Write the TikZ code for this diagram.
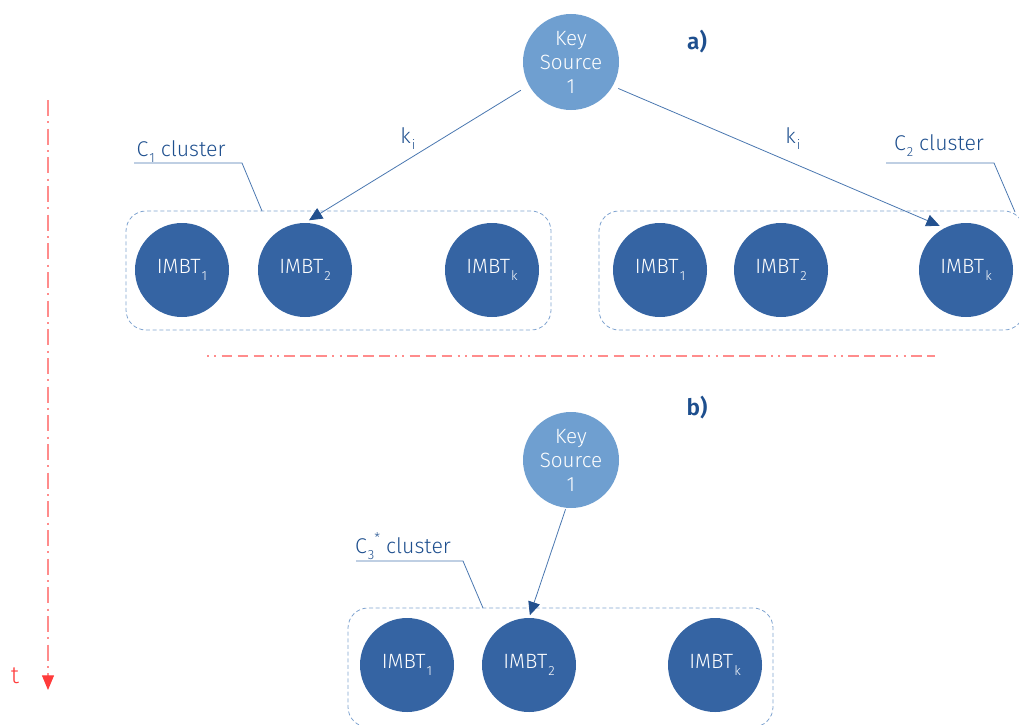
\documentclass[tikz,border=0pt]{standalone}
\usepackage{fontspec}
\setmainfont{Fira Sans}[UprightFont=* Light, BoldFont=* SemiBold]
\usetikzlibrary{arrows.meta}

\definecolor{keyblue}{HTML}{6F9FD0}
\definecolor{imbtblue}{HTML}{3564A3}
\definecolor{txtblue}{HTML}{1E4F8E}
\definecolor{lineblue}{HTML}{4A77B0}
\definecolor{arrowblue}{HTML}{23518F}
\definecolor{boxblue}{HTML}{7FA3D0}
\definecolor{tred}{HTML}{FF3B3B}
\definecolor{tredlight}{HTML}{FF8C8C}

\newcommand{\lowsub}[1]{\kern0.8pt\raisebox{-0.6ex}{\fontsize{10}{10}\selectfont #1}}
\newcommand{\highsup}[1]{\raisebox{0.9ex}{\fontsize{10}{10}\selectfont #1}}

\tikzset{
  keysrc/.style={circle, fill=keyblue, minimum size=72pt, inner sep=0pt,
    text=white, align=center, font=\fontsize{15.5}{18}\selectfont},
  imbt/.style={circle, fill=imbtblue, minimum size=70.5pt, inner sep=0pt,
    text=white, font=\fontsize{15.5}{18}\selectfont},
  cluster/.style={draw=boxblue, line width=0.6pt, dash pattern=on 3pt off 2pt,
    rounded corners=15pt, minimum width=318.75pt, minimum height=89.25pt, inner sep=0pt},
  leader/.style={draw=lineblue, line width=0.6pt},
  feed/.style={draw=lineblue, line width=0.6pt,
    -{Triangle[length=10pt,width=9pt,fill=arrowblue,color=arrowblue]}},
  lbl/.style={text=txtblue, font=\fontsize{16}{18}\selectfont, inner sep=0pt},
  part/.style={text=txtblue, font=\fontsize{17}{20}\selectfont\bfseries, inner sep=0pt},
  timeline/.style={draw=tredlight, line width=0.8pt},
}

\begin{document}
\begin{tikzpicture}[x=0.75pt, y=-0.75pt]
\useasboundingbox (0,0) rectangle (1019,724);

% time axis
\coordinate (tstart) at (48,100);
\coordinate (tend) at (48,690);
\draw[timeline, dash pattern=on 12pt off 4pt on 1.5pt off 4pt,
  -{Triangle[length=11pt,width=9pt,fill=tred,color=tred]}] (tstart) -- (tend);
\node[text=tred, font=\fontsize{18}{20}\selectfont, inner sep=0pt] (tlabel) at (15,676) {t};

% separator between a) and b)
\coordinate (sepl) at (207,356);
\coordinate (sepr) at (935,356);
\draw[timeline, dash pattern=on 1.5pt off 4pt on 1.5pt off 4pt on 8pt off 4pt on 8pt off 4pt on 8pt off 4pt] (sepl) -- (sepr);

% ---------- a) ----------
\node[keysrc] (ka) at (571,62) {Key\\Source\\1};
\node[part] (pa) at (697,42) {a)};

\node[cluster] (c1) at (338.5,270.5) {};
\node[cluster] (c2) at (811.5,270.5) {};

\node[imbt] (c1a) at (182,270) {IMBT\lowsub{1}};
\node[imbt] (c1b) at (305,270) {IMBT\lowsub{2}};
\node[imbt] (c1k) at (492,270) {IMBT\lowsub{k}};

\node[imbt] (c2a) at (660,270) {IMBT\lowsub{1}};
\node[imbt] (c2b) at (781,270) {IMBT\lowsub{2}};
\node[imbt] (c2k) at (966,270) {IMBT\lowsub{k}};

\draw[feed, shorten <=7pt, shorten >=3.5pt] (ka.209) -- (c1b.north);
\draw[feed, shorten <=4.5pt, shorten >=4pt] (ka.330) -- (c2k.117);
\node[lbl, anchor=base] (k1) at (408,143) {k\lowsub{i}};
\node[lbl, anchor=base] (k2) at (793,143) {k\lowsub{i}};

% cluster captions
\node[lbl, anchor=base] (l1) at (181,156) {C\lowsub{1} cluster};
\coordinate (u1a) at (134,163);
\coordinate (u1b) at (242,163);
\coordinate (u1c) at (262,211);
\draw[leader] (u1a) -- (u1b) -- (u1c);

\node[lbl, anchor=base] (l2) at (939,150) {C\lowsub{2} cluster};
\coordinate (u2a) at (886,163);
\coordinate (u2b) at (994,163);
\coordinate (u2c) at (1015,212);
\draw[leader] (u2a) -- (u2b) -- (u2c);

% ---------- b) ----------
\node[keysrc] (kb) at (571,460) {Key\\Source\\1};
\node[part] (pb) at (697,408) {b)};

\node[cluster] (c3) at (560.5,667.5) {};
\node[imbt] (d1) at (407,665) {IMBT\lowsub{1}};
\node[imbt] (d2) at (529,665) {IMBT\lowsub{2}};
\node[imbt] (dk) at (715,665) {IMBT\lowsub{k}};

\draw[feed, shorten <=1pt, shorten >=2pt] (kb.264) -- (d2.north);

\node[lbl, anchor=base] (l3) at (403,553) {C\lowsub{3}\highsup{*} cluster};
\coordinate (u3a) at (356,561);
\coordinate (u3b) at (463,561);
\coordinate (u3c) at (483,608);
\draw[leader] (u3a) -- (u3b) -- (u3c);
\end{tikzpicture}
\end{document}
